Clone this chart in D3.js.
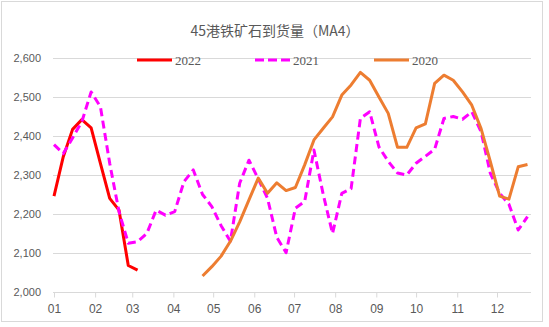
<!DOCTYPE html>
<html>
<head>
<meta charset="utf-8">
<script src="https://cdn.jsdelivr.net/npm/d3@7/dist/d3.min.js"></script>
<style>
  html, body { margin: 0; padding: 0; background: #fff; }
  svg { display: block; }
</style>
</head>
<body>
<script>
// ---------- DATA ----------
const title = "45港铁矿石到货量（MA4）";
const monthLabels = ["01","02","03","04","05","06","07","08","09","10","11","12"];
const monthStartDays = [0,31,59,90,120,151,181,212,243,273,304,334];
const yTicks = [2000,2100,2200,2300,2400,2500,2600];
const seriesNames = ["2022","2021","2020"];

// weekly values (week index 0 = first week of January)
const values2022 = [2246,2347,2417,2442,2421,2330,2240,2210,2068,2056];
const start2022 = 0;
const values2021 = [2378,2355,2395,2437,2513,2475,2330,2206,2125,2129,
                    2150,2210,2197,2206,2283,2313,2250,2219,2170,2130,
                    2279,2338,2290,2240,2140,2101,2215,2232,2364,2250,
                    2150,2253,2265,2445,2462,2372,2335,2305,2300,2330,
                    2348,2366,2445,2450,2443,2462,2411,2304,2253,2225,
                    2159,2193];
const start2021 = 0;
const values2020 = [2041,2065,2092,2130,2180,2236,2292,2253,2280,2260,
                    2268,2326,2390,2420,2449,2505,2531,2563,2543,2500,
                    2458,2371,2371,2421,2431,2535,2556,2543,2513,2479,
                    2419,2334,2246,2238,2321,2327];
const start2020 = 16;

// ---------- LAYOUT ----------
const W = 549, H = 327;
const svg = d3.select("body").append("svg").attr("width", W).attr("height", H);

svg.append("rect").attr("x", 1.5).attr("y", 1.5).attr("width", 541).attr("height", 320)
  .attr("fill", "#fff").attr("stroke", "#d9d9d9").attr("stroke-width", 1);

const plotLeft = 53, plotRight = 531;
const x = d3.scaleLinear().domain([0, 357]).range([54, 527.5]);
const y = d3.scaleLinear().domain([2000, 2600]).range([292, 58]);

// title
svg.append("text").attr("x", 275).attr("y", 36).attr("text-anchor", "middle")
  .attr("font-family", "'Noto Sans CJK SC', sans-serif").attr("font-size", 14)
  .attr("fill", "#595959").text(title);

// gridlines
svg.append("g").selectAll("line").data(yTicks.filter(d => d !== 2000)).join("line")
  .attr("x1", plotLeft).attr("x2", plotRight)
  .attr("y1", d => Math.round(y(d)) + 0.5).attr("y2", d => Math.round(y(d)) + 0.5)
  .attr("stroke", "#d9d9d9").attr("stroke-width", 1);

// y axis labels
const yAxis = d3.axisLeft(y).tickValues(yTicks).tickFormat(d3.format(",")).tickSize(0).tickPadding(0);
const gy = svg.append("g").attr("transform", `translate(41,0)`).call(yAxis);
gy.select(".domain").remove();
gy.selectAll("text").attr("font-family", "'Liberation Sans', Arial, sans-serif")
  .attr("font-size", 11).attr("fill", "#595959");

// x axis
const xAxis = d3.axisBottom(x).tickValues(monthStartDays)
  .tickFormat((d, i) => monthLabels[i]).tickSize(5).tickPadding(7);
const gx = svg.append("g").attr("transform", `translate(0,${Math.round(y(2000)) + 0.5})`).call(xAxis);
gx.select(".domain").attr("d", `M${plotLeft},0H${plotRight}`).attr("stroke", "#d9d9d9");
gx.selectAll(".tick line").attr("stroke", "#d9d9d9");
gx.selectAll("text").attr("font-family", "'Liberation Sans', Arial, sans-serif")
  .attr("font-size", 12).attr("fill", "#595959");

// lines
const line = d3.line().x(d => x(d.w * 7)).y(d => y(d.v));
const toPts = (vals, start) => vals.map((v, i) => ({ w: start + i, v }));

const styles = {
  "2022": { color: "#ff0000", dash: null },
  "2021": { color: "#ff00ff", dash: "8,4.5" },
  "2020": { color: "#ed7d31", dash: null }
};
const seriesData = {
  "2022": toPts(values2022, start2022),
  "2021": toPts(values2021, start2021),
  "2020": toPts(values2020, start2020)
};
seriesNames.forEach(name => {
  svg.append("path").datum(seriesData[name])
    .attr("d", line).attr("fill", "none")
    .attr("stroke", styles[name].color).attr("stroke-width", 3)
    .attr("stroke-linejoin", "round")
    .attr("stroke-dasharray", styles[name].dash);
});

// legend
const legendX = [137, 255, 374];
const lg = svg.append("g");
seriesNames.forEach((name, i) => {
  const g = lg.append("g").attr("transform", `translate(${legendX[i]},60)`);
  g.append("line").attr("x1", 0).attr("x2", 35).attr("y1", 0).attr("y2", 0)
    .attr("stroke", styles[name].color).attr("stroke-width", 3)
    .attr("stroke-dasharray", styles[name].dash ? "9,4" : null);
  g.append("text").attr("x", 38).attr("y", 4.5)
    .attr("font-family", "'Liberation Serif', 'Times New Roman', serif")
    .attr("font-size", 13).attr("fill", "#595959").text(name);
});
</script>
</body>
</html>
